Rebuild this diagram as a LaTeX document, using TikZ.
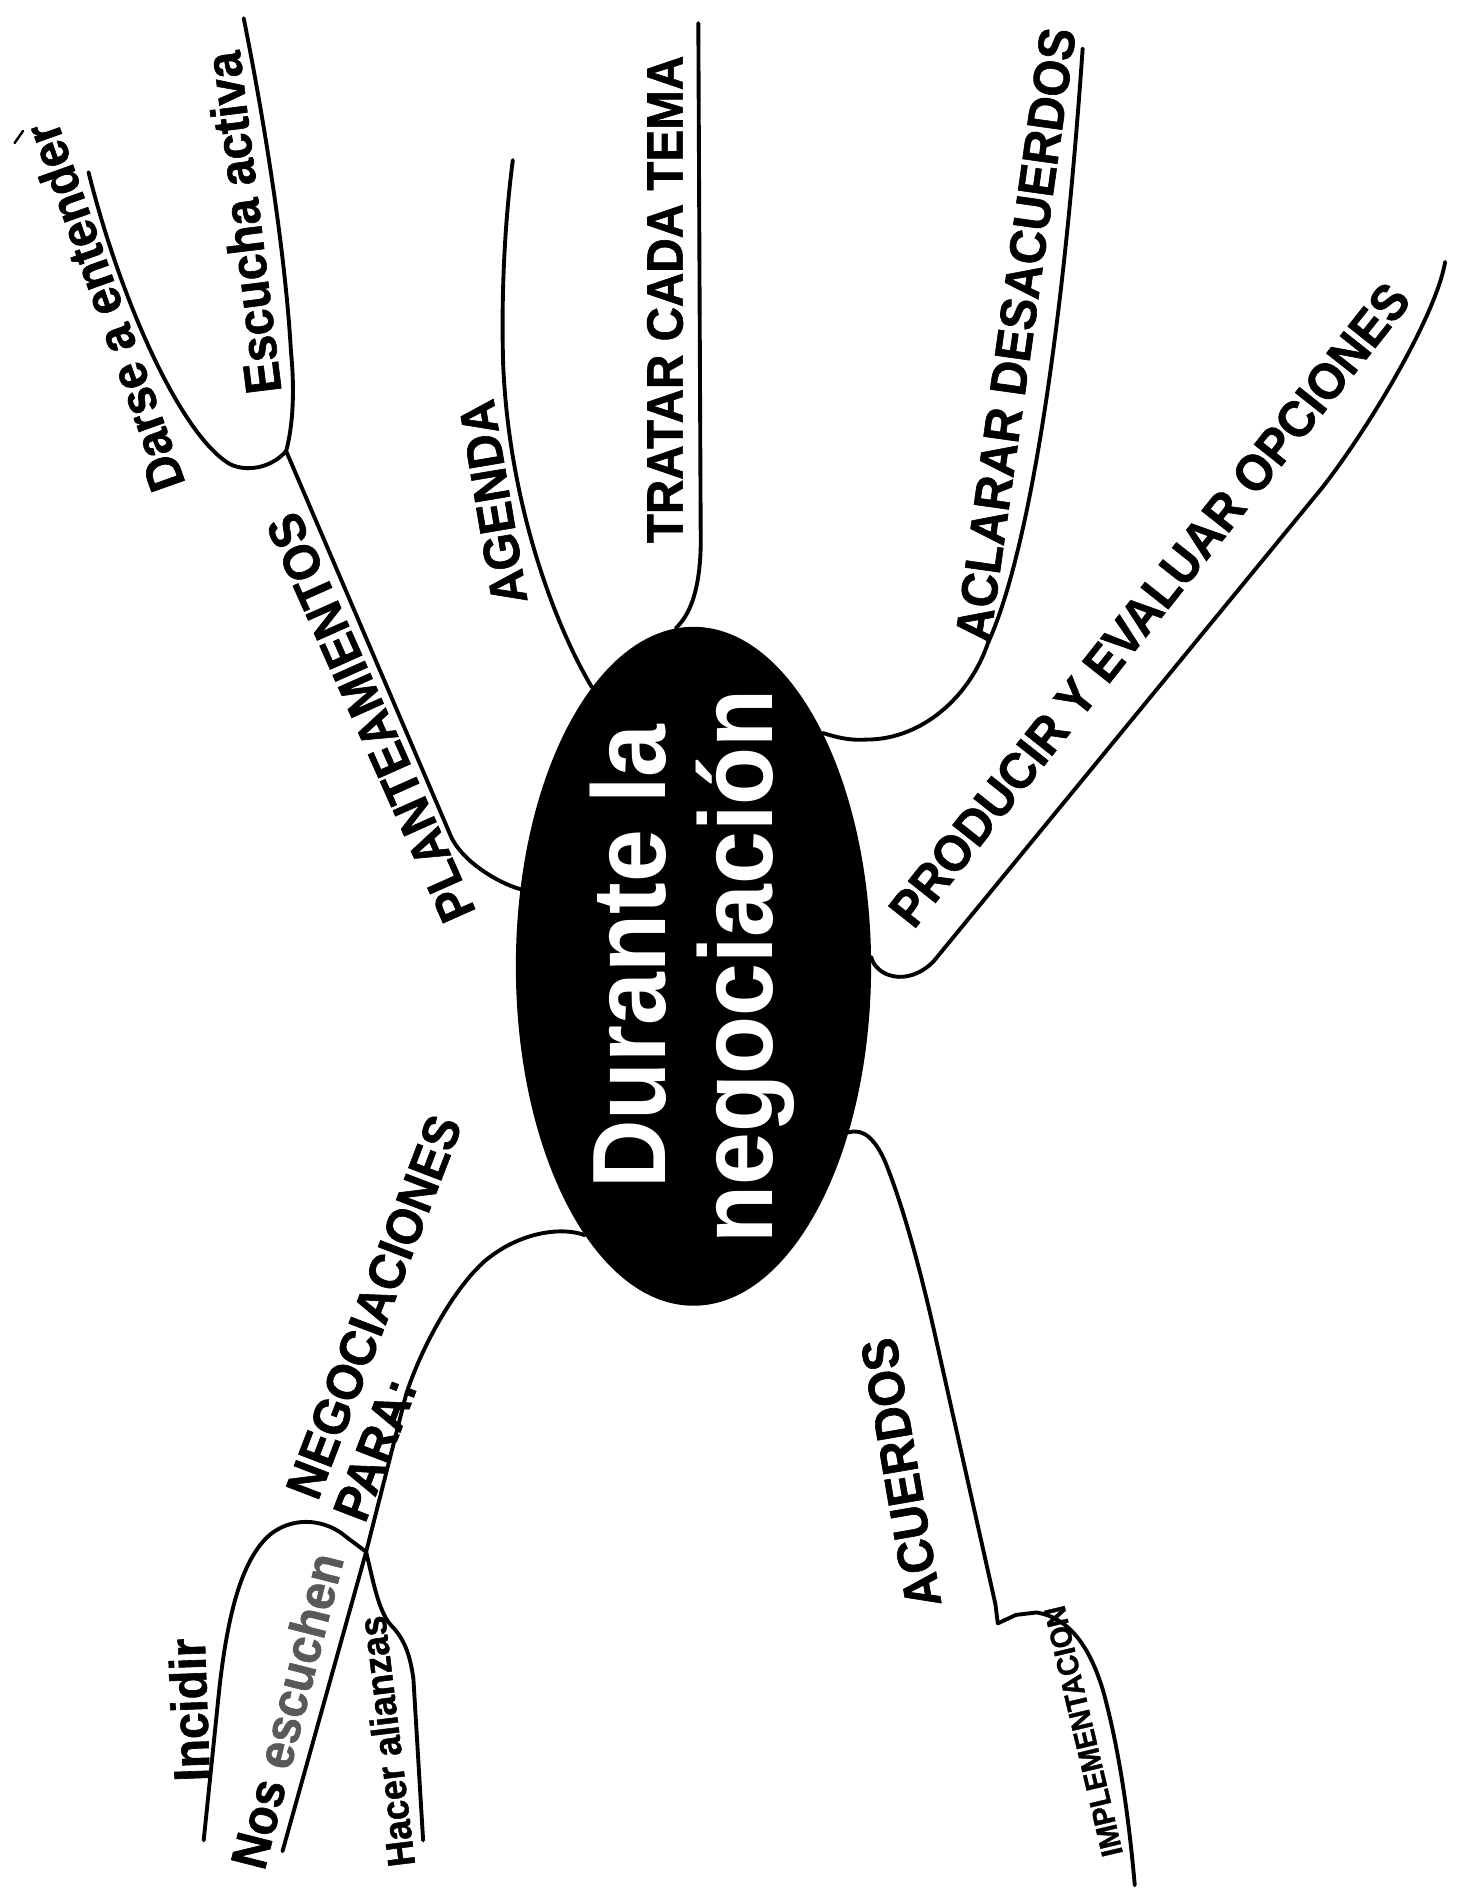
\documentclass[tikz,border=0pt]{standalone}
\usepackage{fontspec}
\setmainfont{Liberation Sans}
\newfontfamily\lblfont[FakeStretch=0.935, FakeBold=1.2, UprightFont={* Bold}]{Liberation Sans}
\newfontfamily\corefont[FakeStretch=0.91, UprightFont={* Bold}]{Liberation Sans}
\usetikzlibrary{shapes.geometric}
\tikzset{
  br/.style={line width=3.2pt, line cap=round, line join=round},
  lbl/.style={font=\lblfont\fontsize{42}{48}\selectfont, inner sep=0pt, anchor=base},
  lblsm/.style={font=\lblfont\fontsize{32}{38}\selectfont, inner sep=0pt, anchor=base},
  lbltiny/.style={font=\lblfont\fontsize{25}{28}\selectfont, inner sep=0pt, anchor=base},
  core/.style={ellipse, fill=black, minimum width=293pt, minimum height=560pt, inner sep=0pt},
  coretxt/.style={font=\corefont\fontsize{86}{96}\selectfont, text=white, inner sep=0pt, anchor=base, rotate=90}
}
\begin{document}
\begin{tikzpicture}[x=1pt,y=-1pt]
\fill[white] (0,0) rectangle (1207,1568);
\useasboundingbox (0,0) rectangle (1207,1568);

% central ellipse
\node[core] (c) at (572,797) {};
\node[coretxt] (t1) at (549,789) {Durante la};
\node[coretxt] (t2) at (637,797) {negociación};

% coordinates (junctions and free ends)
\coordinate (j1) at (236,372);
\coordinate (escEnd) at (201,15);
\coordinate (darEnd) at (73,142);
\coordinate (agEnd) at (423,132);
\coordinate (trEnd) at (576,19);
\coordinate (acEnd) at (893,40);
\coordinate (prEnd) at (1192,216);
\coordinate (j2) at (302,1280);
\coordinate (nosEnd) at (233,1527);
\coordinate (incEnd) at (168,1518);
\coordinate (hacEnd) at (349,1518);
\coordinate (knee) at (823,1339);
\coordinate (impEnd) at (936,1555);
\coordinate (tickA) at (12,118);
\coordinate (tickB) at (19,108);

% branches
\draw[br] (c.156) .. controls (410,728) and (381,710) .. (372,690) -- (j1);
\draw[br] (j1) .. controls (242,350) and (243,320) .. (240,290) .. controls (236,220) and (222,120) .. (escEnd);
\draw[br] (j1) .. controls (225,385) and (205,390) .. (190,383) .. controls (150,360) and (100,250) .. (darEnd);
\draw[br] (c.110) .. controls (460,520) and (420,420) .. (415,300) .. controls (413,230) and (418,170) .. (agEnd);
\draw[br] (c.93) .. controls (568,508) and (577,490) .. (578,450) -- (trEnd);
\draw[br] (c.61) .. controls (690,608) and (700,611) .. (715,610) .. controls (760,610) and (800,575) .. (815,530) .. controls (845,465) and (875,300) .. (acEnd);
\draw[br] (c.3) .. controls (722,805) and (748,815) .. (770,793) -- (1090,403) .. controls (1127,356) and (1184,262) .. (prEnd);
\draw[br] (c.-47) .. controls (712,930) and (722,940) .. (730,958) .. controls (745,995) and (760,1050) .. (773,1109) -- (821,1323) -- (knee);
\draw[br] (knee) -- (838,1332) -- (855,1330) .. controls (880,1334) and (898,1355) .. (910,1395) .. controls (925,1450) and (932,1510) .. (impEnd);
\draw[br] (c.248.6) .. controls (465,1012) and (430,1015) .. (400,1040) .. controls (375,1062) and (348,1110) .. (335,1150) -- (j2) -- (nosEnd);
\draw[br] (j2) -- (286,1268) .. controls (270,1254) and (245,1250) .. (225,1264) .. controls (200,1283) and (188,1330) .. (181,1392) -- (incEnd);
\draw[br] (j2) .. controls (308,1305) and (312,1328) .. (322,1340) .. controls (332,1350) and (338,1362) .. (341,1385) -- (hacEnd);
\draw[line width=2pt, line cap=round] (tickA) -- (tickB);

% labels
\node[lbl, rotate=90] (tratar) at (563,247) {TRATAR CADA TEMA};
\node[lbl, rotate=99.6] (agenda) at (421,412) {AGENDA};
\node[lbl, rotate=82] (aclarar) at (852,278) {ACLARAR DESACUERDOS};
\node[lbl, rotate=51.6] (producir) at (959.5,507.7) {PRODUCIR Y EVALUAR OPCIONES};
\node[lbl, rotate=114] (plant) at (319,586) {PLANTEAMIENTOS};
\node[lbl, rotate=109.5] (darse) at (100,248.5) {Darse a entender};
\node[lbl, rotate=97] (escucha) at (215,182) {Escucha activa};
\node[lbl, rotate=69, anchor=base west] (negoc) at (262,1239) {NEGOCIACIONES};
\node[lbl, rotate=69, anchor=base west] (para) at (301,1257.5) {PARA:};
\node[lbl, rotate=75.7] (nos) at (251,1414.7) {Nos \textcolor{black!65}{escuchen}};
\node[lbl, rotate=92] (incidir) at (171,1410) {Incidir};
\node[lblsm, rotate=96.9] (hacer) at (330,1435) {Hacer alianzas};
\node[lbl, rotate=99.8] (acuerdos) at (757.5,1212.5) {ACUERDOS};
\node[lbltiny, rotate=103.3] (impl) at (902,1426) {IMPLEMENTACION};
\end{tikzpicture}
\end{document}
